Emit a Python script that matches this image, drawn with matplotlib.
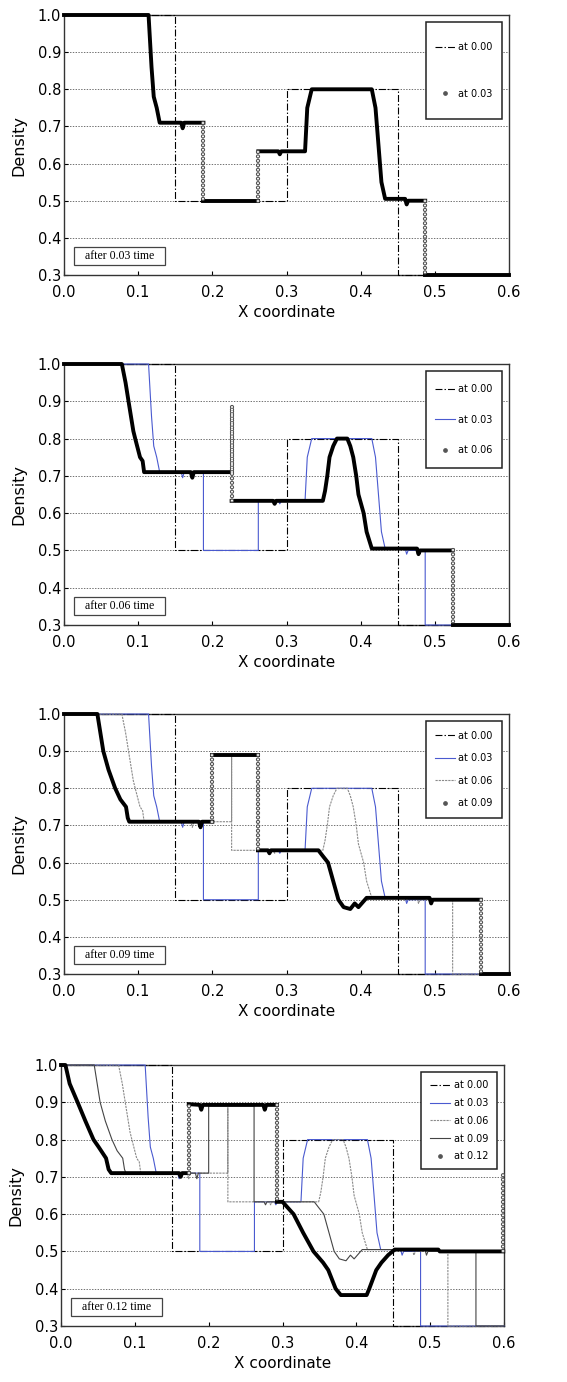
import numpy as np
import matplotlib
matplotlib.use("Agg")
import matplotlib.pyplot as plt
from matplotlib.lines import Line2D
from matplotlib.patches import Rectangle

plt.rcParams['lines.scale_dashes'] = False
plt.rcParams['font.family'] = ['DejaVu Sans']

# density profiles
x00 = [0.0, 0.15, 0.15, 0.30, 0.30, 0.45, 0.45, 0.60]
y00 = [1.0, 1.0, 0.5, 0.5, 0.8, 0.8, 0.3, 0.3]

x03 = [0.0, 0.114, 0.118, 0.121, 0.125, 0.129, 0.158, 0.160, 0.162, 0.188, 0.188,
       0.262, 0.262, 0.289, 0.291, 0.293, 0.325, 0.328, 0.334, 0.415, 0.420, 0.424,
       0.428, 0.433, 0.460, 0.462, 0.464, 0.487, 0.487, 0.6]
y03 = [1.0, 1.0, 0.86, 0.78, 0.75, 0.71, 0.71, 0.695, 0.71, 0.71, 0.5,
       0.5, 0.633, 0.633, 0.625, 0.633, 0.633, 0.75, 0.8, 0.8, 0.75, 0.65,
       0.55, 0.505, 0.505, 0.49, 0.5, 0.5, 0.3, 0.3]

x06 = [0.0, 0.078, 0.083, 0.087, 0.0935, 0.096, 0.1025, 0.106, 0.108, 0.171, 0.173,
       0.175, 0.226, 0.226, 0.226, 0.282, 0.284, 0.286, 0.349, 0.352, 0.355, 0.358,
       0.363, 0.368, 0.382, 0.386, 0.390, 0.394, 0.397, 0.404, 0.408, 0.415, 0.476,
       0.478, 0.480, 0.524, 0.524, 0.6]
y06 = [1.0, 1.0, 0.95, 0.9, 0.82, 0.8, 0.75, 0.74, 0.71, 0.71, 0.695,
       0.71, 0.71, 0.885, 0.633, 0.633, 0.625, 0.633, 0.633, 0.66, 0.7, 0.75,
       0.78, 0.8, 0.8, 0.78, 0.75, 0.7, 0.65, 0.6, 0.55, 0.505, 0.505,
       0.49, 0.5, 0.5, 0.3, 0.3]

x09 = [0.0, 0.045, 0.049, 0.053, 0.060, 0.069, 0.076, 0.0836, 0.086, 0.088, 0.182,
       0.184, 0.186, 0.200, 0.200, 0.2615, 0.2615, 0.275, 0.277, 0.279, 0.343, 0.350,
       0.356, 0.363, 0.370, 0.377, 0.386, 0.392, 0.397, 0.408, 0.493, 0.495, 0.497,
       0.562, 0.562, 0.6]
y09 = [1.0, 1.0, 0.95, 0.9, 0.85, 0.8, 0.77, 0.75, 0.72, 0.71, 0.71,
       0.695, 0.71, 0.71, 0.89, 0.89, 0.633, 0.633, 0.625, 0.633, 0.633, 0.615,
       0.6, 0.55, 0.5, 0.48, 0.475, 0.49, 0.48, 0.505, 0.505, 0.49, 0.5,
       0.5, 0.3, 0.3]

x12 = [0.0, 0.006, 0.0117, 0.0225, 0.033, 0.044, 0.051, 0.061, 0.0645, 0.068, 0.160,
       0.162, 0.164, 0.173, 0.173, 0.188, 0.190, 0.192, 0.274, 0.276, 0.278, 0.2925,
       0.2925, 0.300, 0.315, 0.328, 0.342, 0.355, 0.362, 0.372, 0.379, 0.414, 0.4175,
       0.427, 0.434, 0.443, 0.452, 0.511, 0.513, 0.599, 0.599]
y12 = [1.0, 1.0, 0.95, 0.9, 0.85, 0.8, 0.78, 0.75, 0.72, 0.71, 0.71,
       0.70, 0.71, 0.71, 0.895, 0.893, 0.88, 0.893, 0.893, 0.88, 0.893, 0.893,
       0.633, 0.633, 0.6, 0.55, 0.5, 0.47, 0.45, 0.4, 0.383, 0.383, 0.4,
       0.45, 0.47, 0.49, 0.505, 0.505, 0.5, 0.5, 0.71]

curves = [(x00, y00), (x03, y03), (x06, y06), (x09, y09), (x12, y12)]
labels = ['at 0.00', 'at 0.03', 'at 0.06', 'at 0.09', 'at 0.12']
panel_times = ['0.03', '0.06', '0.09', '0.12']
xticks = [0.0, 0.1, 0.2, 0.3, 0.4, 0.5, 0.6]
yticks = [0.3, 0.4, 0.5, 0.6, 0.7, 0.8, 0.9, 1.0]

thin_styles = [
    dict(color='black', lw=0.8, ls=(0, (5, 1.5, 1, 1.5))),
    dict(color='#4a5ad0', lw=0.8, ls='-'),
    dict(color='#8a8a8a', lw=0.8, ls=(0, (1.6, 0.7))),
    dict(color='#444444', lw=0.8, ls='-'),
]

# axes boxes in pixels: left, right, top, bottom
boxes = [(64, 509, 15, 275), (64, 509, 364, 625), (64, 509, 714, 974), (61, 504, 1065, 1326)]
leg_spacing = [3.75, 2.1, 1.3, 0.8]
W, H = 567, 1382


def draw_thick(ax, xs, ys):
    # sloped/flat parts as a thick line, jumps as columns of small circles
    start = 0
    for i in range(1, len(xs)):
        if xs[i] == xs[i - 1]:
            if i - 1 > start:
                ax.plot(xs[start:i], ys[start:i], color='black', lw=2.8,
                        solid_joinstyle='round', zorder=5, clip_on=False)
            sx, sy = [xs[i - 1], xs[i]], [ys[i - 1], ys[i]]
            ax.plot(sx, sy, color='#505050', lw=3.1, ls=(0, (0.01, 3.2)),
                    dash_capstyle='round', zorder=6, clip_on=False)
            ax.plot(sx, sy, color='white', lw=1.5, ls=(0, (0.01, 3.2)),
                    dash_capstyle='round', zorder=7, clip_on=False)
            start = i
    if len(xs) - 1 > start:
        ax.plot(xs[start:], ys[start:], color='black', lw=2.8,
                solid_joinstyle='round', zorder=5, clip_on=False)


fig = plt.figure(figsize=(W / 100, H / 100), dpi=100)

for k in range(4):
    l, r, t, b = boxes[k]
    ax = fig.add_axes([l / W, 1 - b / H, (r - l) / W, (b - t) / H])
    ax.set_xlim(0, 0.6)
    ax.set_ylim(0.3, 1.0)

    handles = []
    for j in range(k + 1):
        xs, ys = curves[j]
        ln, = ax.plot(xs, ys, zorder=3, clip_on=False, **thin_styles[j])
        handles.append(ln)
    xs, ys = curves[k + 1]
    draw_thick(ax, xs, ys)
    handles.append(Line2D([], [], ls='none', marker='o', ms=2.4,
                          mfc='#555555', mec='#555555'))

    ax.set_xticks(xticks)
    ax.set_yticks(yticks)
    ax.set_xticklabels(['%.1f' % v for v in xticks])
    ax.set_yticklabels(['%.1f' % v for v in yticks])
    ax.tick_params(direction='in', length=3, width=0.8, labelsize=10.5)
    ax.tick_params(axis='x', pad=7)
    ax.tick_params(axis='y', pad=2)
    ax.yaxis.grid(True, ls=(0, (1, 1)), color='#707070', lw=0.7)
    ax.set_axisbelow(True)
    for sp in ax.spines.values():
        sp.set_linewidth(1.0)
        sp.set_color('#333333')

    ax.set_xlabel('X coordinate', fontsize=11, va='top')
    ax.xaxis.set_label_coords(0.5, -0.115)
    ax.set_ylabel('Density', fontsize=11.5)
    ax.yaxis.set_label_coords(-0.085, 0.5)

    # legend with a fixed size frame
    lx0, lx1, ly0, ly1 = 0.8135, 0.984, 0.6, 0.973
    ax.add_patch(Rectangle((lx0, ly0), lx1 - lx0, ly1 - ly0, transform=ax.transAxes,
                           fill=True, facecolor='white', edgecolor='#222222', lw=1.1,
                           zorder=8, clip_on=False))
    leg = ax.legend(handles, labels[:k + 2], loc='center',
                    bbox_to_anchor=((lx0 + lx1) / 2, (ly0 + ly1) / 2),
                    frameon=False, fontsize=7, handlelength=2.0, handletextpad=0.4,
                    labelspacing=leg_spacing[k], borderpad=0, numpoints=1)
    leg.set_zorder(9)

    # "after ... time" box
    bx0, bw, by0, bh = 0.022, 0.205, 0.037, 0.07
    ax.add_patch(Rectangle((bx0, by0), bw, bh, transform=ax.transAxes, fill=True,
                           facecolor='white', edgecolor='#444444', lw=0.9, zorder=8))
    ax.text(bx0 + bw / 2, by0 + bh / 2, 'after %s time' % panel_times[k],
            transform=ax.transAxes, ha='center', va='center', fontsize=8.5,
            family='Liberation Serif', zorder=9)

fig.savefig('out.png', dpi=100)
